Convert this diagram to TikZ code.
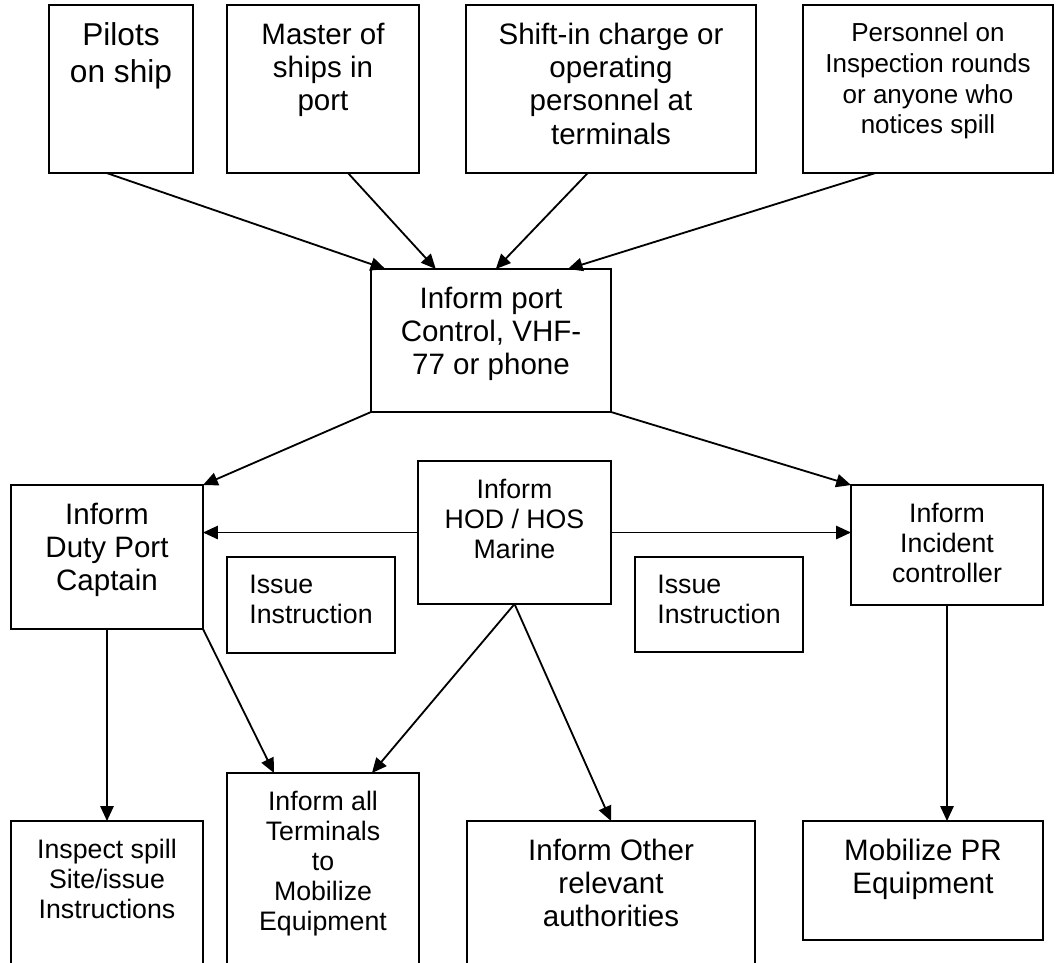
\documentclass[tikz,border=0pt]{standalone}
\usepackage{fontspec}
\setmainfont{Liberation Sans}
\usetikzlibrary{arrows.meta,calc}
\newcommand{\pxSize}{0.025cm}
\tikzstyle{flowChart} = [x=\pxSize, y=-\pxSize, line width=1.3pt]
\tikzstyle{flowBox} = [draw=black, rectangle, inner sep=0pt, outer sep=0pt]
\tikzstyle{flowArrow} = [-{Triangle[length=0.37cm, width=0.33cm]}]
\tikzstyle{hugeText} = [font=\fontsize{22.5}{26}\selectfont, align=center, inner sep=0pt]
\tikzstyle{bigText} = [font=\fontsize{21}{23.7}\selectfont, align=center, inner sep=0pt]
\tikzstyle{midText} = [font=\fontsize{19}{21.3}\selectfont, align=center, inner sep=0pt]
\tikzstyle{smallText} = [font=\fontsize{18.5}{21.8}\selectfont, align=center, inner sep=0pt]
\tikzstyle{issueText} = [midText, align=left]
\newcommand{\flowBoxAt}[7]{
  \node [flowBox, minimum width={(#4-#2)*\pxSize}, minimum height={(#5-#3)*\pxSize}] (#1) at ({(#2+#4)/2},{(#3+#5)/2}) {};
  \node [#6, anchor=north] (#1Text) at ({(#2+#4)/2},{#3+17}) {#7};
}

\begin{document}
\begin{tikzpicture}[flowChart]
  \useasboundingbox (0,0) rectangle (1056,962);
  \clip (0,0) rectangle (1056,962);

  \flowBoxAt{pilots}{49}{5}{193}{173}{hugeText}{Pilots\\on ship}
  \flowBoxAt{master}{227}{5}{419}{173}{bigText}{Master of\\ships in\\port}
  \flowBoxAt{shiftIn}{466}{5}{756}{173}{bigText}{Shift-in charge or\\operating\\personnel at\\terminals}
  \flowBoxAt{personnel}{803}{5}{1053}{173}{smallText}{Personnel on\\Inspection rounds\\or anyone who\\notices spill}
  \flowBoxAt{control}{371}{269}{611}{412}{bigText}{Inform port\\Control, VHF-\\77 or phone}
  \flowBoxAt{duty}{11}{485}{203}{629}{bigText}{Inform\\Duty Port\\Captain}
  \flowBoxAt{hod}{418}{461}{611}{604}{midText}{Inform\\HOD / HOS\\Marine}
  \flowBoxAt{issueLeft}{227}{557}{395}{653}{issueText}{Issue\\Instruction}
  \flowBoxAt{issueRight}{635}{557}{803}{652}{issueText}{Issue\\Instruction}
  \flowBoxAt{incident}{851}{485}{1043}{605}{midText}{Inform\\Incident\\controller}
  \flowBoxAt{inspect}{11}{821}{203}{990}{midText}{Inspect spill\\Site/issue\\Instructions}
  \flowBoxAt{terminals}{227}{773}{419}{990}{midText}{Inform all\\Terminals\\to\\Mobilize\\Equipment}
  \flowBoxAt{other}{467}{821}{755}{990}{bigText}{Inform Other\\relevant\\authorities}
  \flowBoxAt{mobilize}{803}{821}{1043}{940}{bigText}{Mobilize PR\\Equipment}

  \draw [flowArrow] ($(pilots.south west)!.40!(pilots.south east)$) -- ($(control.north west)!.06!(control.north east)$);
  \draw [flowArrow] ($(master.south west)!.63!(master.south east)$) -- ($(control.north west)!.27!(control.north east)$);
  \draw [flowArrow] ($(shiftIn.south west)!.42!(shiftIn.south east)$) -- ($(control.north west)!.52!(control.north east)$);
  \draw [flowArrow] ($(personnel.south west)!.29!(personnel.south east)$) -- ($(control.north west)!.82!(control.north east)$);
  \draw [flowArrow] (control.south west) -- (duty.north east);
  \draw [flowArrow] (control.south east) -- (incident.north west);
  \draw [flowArrow] (hod.west) -- (hod.west -| duty.east);
  \draw [flowArrow] (hod.east) -- (hod.east -| incident.west);
  \draw [flowArrow] (duty.south) -- (inspect.north);
  \draw [flowArrow] (duty.south east) -- ($(terminals.north west)!.245!(terminals.north east)$);
  \draw [flowArrow] (hod.south) -- ($(terminals.north west)!.755!(terminals.north east)$);
  \draw [flowArrow] (hod.south) -- (other.north);
  \draw [flowArrow] (incident.south) -- (incident.south |- mobilize.north);
\end{tikzpicture}
\end{document}
